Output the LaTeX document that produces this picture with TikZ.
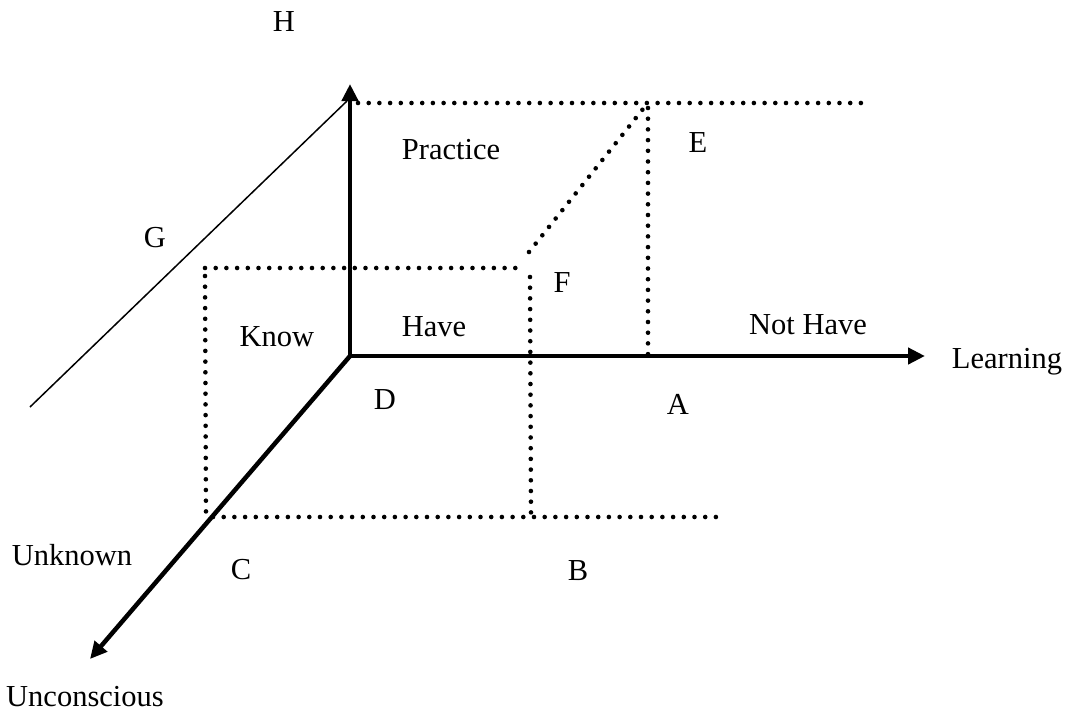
\documentclass[tikz,border=0pt]{standalone}
\usepackage{fontspec}
\setmainfont{Liberation Serif}
\usetikzlibrary{arrows.meta}
\begin{document}
\begin{tikzpicture}[x=1pt,y=-1pt,
  axis/.style={line width=4.5pt,-{Triangle[length=17pt,width=16pt]}},
  thinline/.style={line width=1.5pt},
  dots/.style={line width=4.6pt,line cap=round,dash pattern=on 0pt off 10.7pt},
  lbl/.style={inner sep=0pt,font=\fontsize{30.5}{36}\selectfont}]
\useasboundingbox (0,0) rectangle (1077,715);
% axis points
\coordinate (D0) at (350,356);
\coordinate (Htip) at (350,84);
\coordinate (Ltip) at (925,356);
\coordinate (Utip) at (90,659);
% thin line G
\coordinate (g1) at (30,407);
\coordinate (g2) at (347,101);
% dotted points
\coordinate (t1) at (358,103);
\coordinate (t2) at (862,103);
\coordinate (e1) at (648,108);
\coordinate (e2) at (648,356);
\coordinate (f1) at (529,252);
\coordinate (f2) at (643,109);
\coordinate (k1) at (205,268);
\coordinate (k2) at (517,268);
\coordinate (l1) at (205,276);
\coordinate (l2) at (206,514);
\coordinate (r1) at (530,277);
\coordinate (r2) at (531,514);
\coordinate (b1) at (213,517);
\coordinate (b2) at (724,517);
% dotted lines
\draw[dots] (t1) -- (t2);
\draw[dots] (e1) -- (e2);
\draw[dots] (f1) -- (f2);
\draw[dots] (k1) -- (k2);
\draw[dots] (r1) -- (r2);
\draw[dots] (l1) -- (l2);
\draw[dots] (b1) -- (b2);
% thin line
\draw[thinline] (g1) -- (g2);
% axes
\draw[axis] (D0) -- (Htip);
\draw[axis] (D0) -- (Ltip);
\draw[axis] (D0) -- (Utip);
% labels
\node[lbl] (H) at (284,22) {H};
\node[lbl] (practice) at (451,150) {Practice};
\node[lbl] (E) at (698,143) {E};
\node[lbl] (G) at (155,238) {G};
\node[lbl] (F) at (562,283) {F};
\node[lbl] (know) at (277,337) {Know};
\node[lbl] (have) at (434,327) {Have};
\node[lbl] (nothave) at (808,325) {Not Have};
\node[lbl] (learning) at (1007,362) {Learning};
\node[lbl] (D) at (385,400) {D};
\node[lbl] (A) at (678,404) {A};
\node[lbl] (unknown) at (72,555) {Unknown};
\node[lbl] (C) at (241,570) {C};
\node[lbl] (B) at (578,571) {B};
\node[lbl] (unconscious) at (85,697) {Unconscious};
\end{tikzpicture}
\end{document}
